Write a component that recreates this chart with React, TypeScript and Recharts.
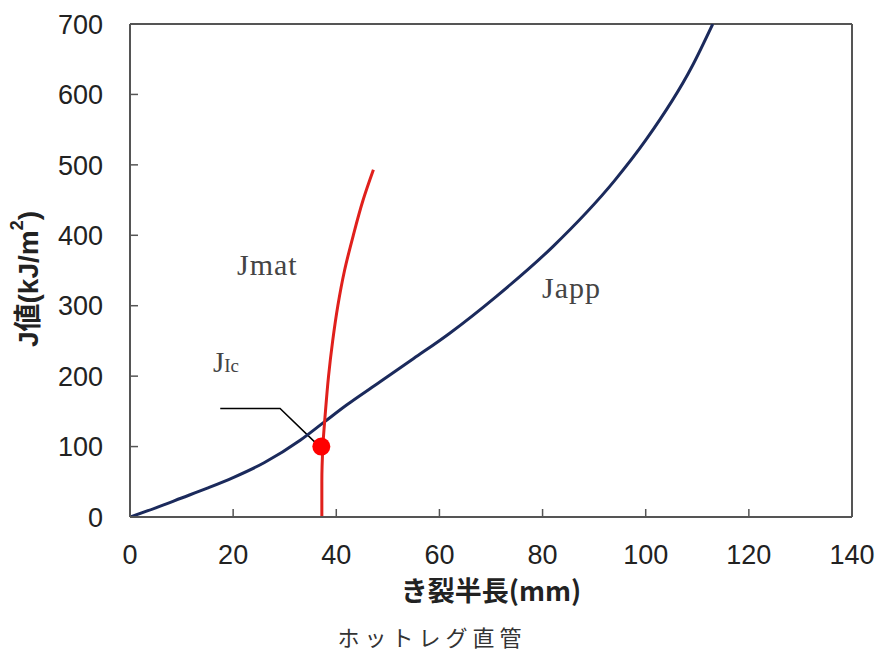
import { LineChart, Line, XAxis, YAxis, ReferenceLine, ReferenceDot } from "recharts";

// Japp curve (applied J) — crack half length (mm) vs J (kJ/m2)
const jappX = [0, 5, 10, 15, 20, 26, 33, 37.5, 42, 48.5, 55, 62, 71, 82, 94, 100, 109, 113];
const jappY = [0, 13, 27, 41, 56, 77, 109, 134, 159, 192, 225, 261, 313, 384, 478, 535, 640, 700];

// Jmat curve (material resistance)
const jmatX = [37.2, 37.2, 37.4, 37.9, 38.5, 39.3, 40.3, 41.6, 43.3, 45.2, 47.2];
const jmatY = [0, 50, 100, 150, 200, 250, 300, 350, 400, 450, 493];

// leader line from the JIc label to the dot
const leaderX = [17.5, 29.1, 35.9];
const leaderY = [154, 154, 106];

const jicPoint = { x: 37.1, y: 100 };

const xTicks = [0, 20, 40, 60, 80, 100, 120, 140];
const yTicks = [0, 100, 200, 300, 400, 500, 600, 700];

const zip = (xs: number[], ys: number[]) => xs.map((x, i) => ({ x, y: ys[i] }));
const jappData = zip(jappX, jappY);
const jmatData = zip(jmatX, jmatY);
const leaderData = zip(leaderX, leaderY);

const TICK_FONT = "'Liberation Sans', Arial, sans-serif";
const AXIS_COLOR = "#555";

const XTick = (props: any) => {
  const { x, y, payload } = props;
  return (
    <g>
      <line x1={x} x2={x} y1={y - 28} y2={y - 36} stroke={AXIS_COLOR} strokeWidth={1.5} />
      <text x={x} y={y} dy="0.71em" textAnchor="middle" fontSize={27} fill="#222" fontFamily={TICK_FONT}>
        {payload.value}
      </text>
    </g>
  );
};

const YTick = (props: any) => {
  const { x, y, payload } = props;
  return (
    <g>
      <line x1={x + 27} x2={x + 35} y1={y} y2={y} stroke={AXIS_COLOR} strokeWidth={1.5} />
      <text x={x} y={y} dy="0.36em" textAnchor="end" fontSize={27} fill="#222" fontFamily={TICK_FONT}>
        {payload.value}
      </text>
    </g>
  );
};

export default function App() {
  return (
    <div style={{ position: "absolute", left: 0, top: 0, width: 879, height: 653, background: "#fff" }}>
      <LineChart width={879} height={653} margin={{ top: 24, right: 27, left: 0, bottom: 0 }}>
        <XAxis
          type="number"
          dataKey="x"
          domain={[0, 140]}
          ticks={xTicks}
          height={136}
          tickSize={0}
          tickMargin={28}
          tick={<XTick />}
          axisLine={{ stroke: AXIS_COLOR, strokeWidth: 2 }}
          allowDataOverflow
        />
        <YAxis
          type="number"
          dataKey="y"
          domain={[0, 700]}
          ticks={yTicks}
          width={130}
          tickSize={0}
          tickMargin={27}
          tick={<YTick />}
          axisLine={{ stroke: AXIS_COLOR, strokeWidth: 2 }}
          allowDataOverflow
        />
        <ReferenceLine y={700} stroke={AXIS_COLOR} strokeWidth={2} />
        <ReferenceLine x={140} stroke={AXIS_COLOR} strokeWidth={2} />
        <Line
          data={leaderData}
          dataKey="y"
          type="linear"
          stroke="#000"
          strokeWidth={1.5}
          dot={false}
          isAnimationActive={false}
        />
        <Line
          data={jappData}
          dataKey="y"
          type="monotone"
          stroke="#1b2a5c"
          strokeWidth={3}
          dot={false}
          isAnimationActive={false}
        />
        <Line
          data={jmatData}
          dataKey="y"
          type="monotoneY"
          stroke="#e0201c"
          strokeWidth={3}
          dot={false}
          isAnimationActive={false}
        />
        <ReferenceDot x={jicPoint.x} y={jicPoint.y} r={9} fill="#ff0000" stroke="none" />
      </LineChart>
      <svg
        width={879}
        height={653}
        style={{ position: "absolute", left: 0, top: 0, pointerEvents: "none" }}
      >
        <g fill="#444" fontFamily="'Liberation Serif', 'DejaVu Serif', serif">
          <text x={237} y={275} fontSize={30} letterSpacing={1}>Jmat</text>
          <text x={542} y={298} fontSize={30} letterSpacing={1}>Japp</text>
          <text x={213} y={372} fontSize={29}>
            J<tspan fontSize={19}>Ic</tspan>
          </text>
        </g>
        <text
          x={28}
          y={279}
          transform="rotate(-90 28 279)"
          textAnchor="middle"
          dominantBaseline="central"
          fontSize={28}
          fontWeight="bold"
          fill="#222"
          fontFamily="'Liberation Sans', 'Noto Sans CJK JP', sans-serif"
        >
          J値(kJ/m<tspan fontSize={18} dy={-11}>2</tspan><tspan dy={11}>)</tspan>
        </text>
        <text
          x={491}
          y={601}
          textAnchor="middle"
          fontSize={27}
          fontWeight="bold"
          fill="#222"
          fontFamily="'Noto Sans CJK JP', sans-serif"
        >
          き裂半長(mm)
        </text>
        <text
          x={432}
          y={646}
          textAnchor="middle"
          fontSize={22}
          letterSpacing={5}
          fill="#333"
          fontFamily="'Noto Sans CJK JP', serif"
        >
          ホットレグ直管
        </text>
      </svg>
    </div>
  );
}
